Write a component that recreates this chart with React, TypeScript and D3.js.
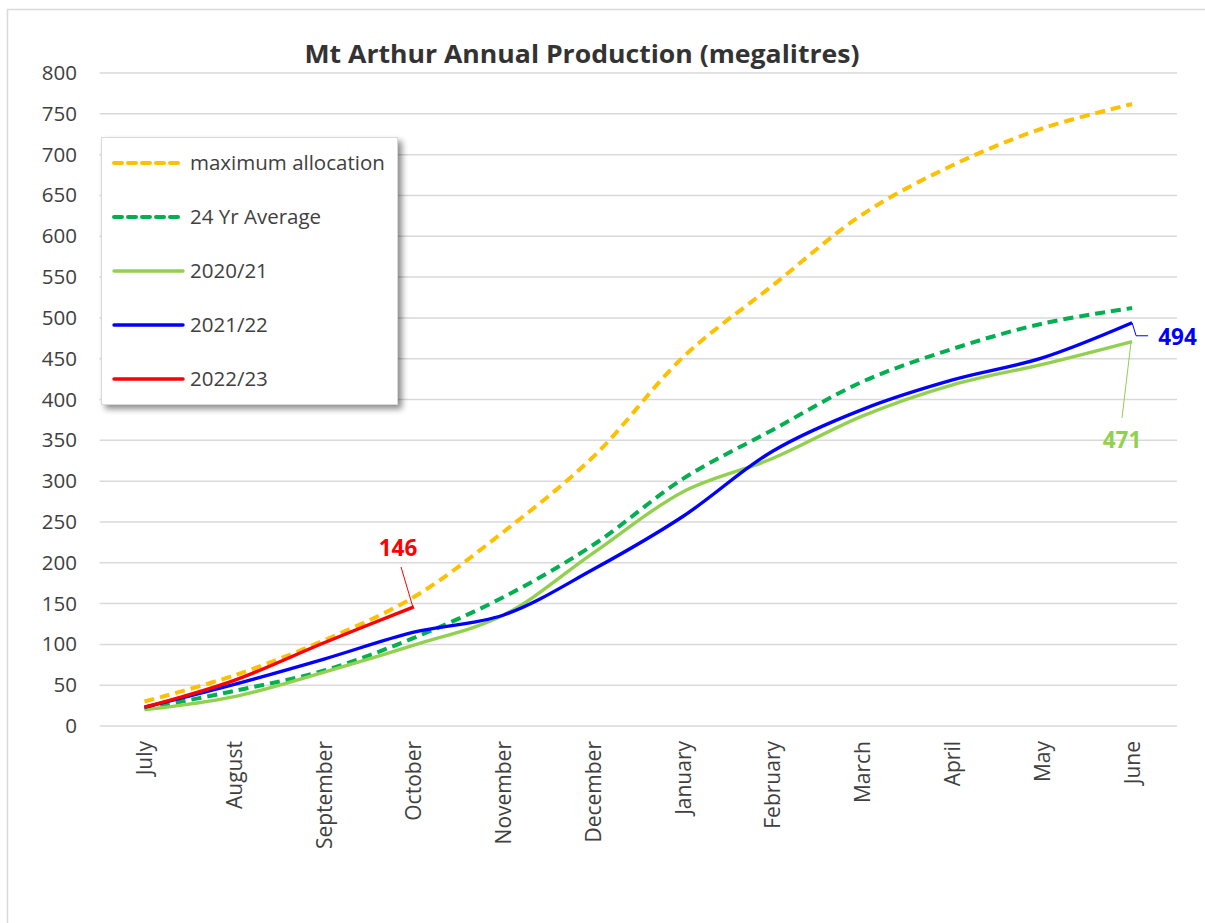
import React from "react";
import * as d3 from "d3";

const months = ["July","August","September","October","November","December","January","February","March","April","May","June"];
const maxAllocation = [30, 62, 105, 158, 238, 330, 452, 540, 627, 687, 732, 762];
const avg24 = [21, 43, 68, 108, 158, 222, 303, 363, 422, 462, 493, 512];
const y2020 = [20, 36, 66, 99, 136, 212, 287, 328, 380, 418, 443, 471];
const y2021 = [23, 51, 82, 115, 136, 192, 257, 337, 388, 424, 451, 494];
const y2022 = [23, 56, 102, 146];
const yTicks = [0,50,100,150,200,250,300,350,400,450,500,550,600,650,700,750,800];

const series = [
  { name: "maximum allocation", values: maxAllocation, color: "#FFC000", dash: "10,6" },
  { name: "24 Yr Average", values: avg24, color: "#00B050", dash: "10,6" },
  { name: "2020/21", values: y2020, color: "#92D050", dash: null },
  { name: "2021/22", values: y2021, color: "#0000FF", dash: null },
  { name: "2022/23", values: y2022, color: "#FF0000", dash: null },
];

const FONT = "'Open Sans', sans-serif";

export default function App() {
  const left = 99.6, right = 1177, top = 73, bottom = 726;
  const x = d3.scaleBand<string>().domain(months).range([left, right]);
  const xc = (i: number) => (x(months[i]) as number) + x.bandwidth() / 2;
  const y = d3.scaleLinear().domain([0, 800]).range([bottom, top]);
  const line = d3.line<number>().x((_, i) => xc(i)).y(d => y(d)).curve(d3.curveCatmullRom.alpha(0.5));

  const lastRed = y2022.length - 1;
  const lastIdx = months.length - 1;

  return (
    <svg width={1205} height={923} style={{ position: "absolute", left: 0, top: 0, background: "#fff" }}>
      <defs>
        <filter id="shadow" x="-10%" y="-10%" width="130%" height="130%">
          <feGaussianBlur in="SourceAlpha" stdDeviation="3" />
          <feOffset dx="4" dy="4" result="b" />
          <feComponentTransfer><feFuncA type="linear" slope="0.45" /></feComponentTransfer>
          <feMerge><feMergeNode /><feMergeNode in="SourceGraphic" /></feMerge>
        </filter>
      </defs>
      <rect x={7.5} y={9.5} width={1220} height={940} fill="#fff" stroke="#d9d9d9" strokeWidth={1.5} />
      <text x={582} y={63} textAnchor="middle" fontFamily={FONT} fontWeight="bold" fontSize={25} fill="#333" textLength={555} lengthAdjust="spacingAndGlyphs">
        Mt Arthur Annual Production (megalitres)
      </text>
      {yTicks.map(t => (
        <g key={t}>
          <line x1={left} x2={right} y1={y(t)} y2={y(t)} stroke="#d9d9d9" strokeWidth={1.5} />
          <text x={77} y={y(t) + 7} textAnchor="end" fontFamily={FONT} fontSize={20.5} fill="#404040">{t}</text>
        </g>
      ))}
      {months.map((m, i) => (
        <text key={m} transform={`translate(${xc(i) + 7.5},741) rotate(-90)`} textAnchor="end"
          fontFamily={FONT} fontSize={21} fill="#404040">{m}</text>
      ))}
      {series.map(s => (
        <path key={s.name} d={line(s.values) || ""} fill="none" stroke={s.color} strokeWidth={s.dash ? 4 : 3.4}
          strokeDasharray={s.dash || undefined} strokeLinejoin="round" />
      ))}
      {/* data labels */}
      <line x1={401} y1={567} x2={xc(lastRed) - 1} y2={y(y2022[lastRed])} stroke="#FF0000" strokeWidth={1} />
      <text x={398} y={556} textAnchor="middle" fontFamily={FONT} fontWeight="bold" fontSize={22.5} fill="#FF0000">{y2022[lastRed]}</text>
      <polyline points={`${xc(lastIdx)},${y(y2021[lastIdx])} ${xc(lastIdx) + 4},${y(y2021[lastIdx]) + 13} ${xc(lastIdx) + 16},${y(y2021[lastIdx]) + 13}`}
        fill="none" stroke="#0000FF" strokeWidth={1} />
      <text x={1177.5} y={345} textAnchor="middle" fontFamily={FONT} fontWeight="bold" fontSize={22.5} fill="#0000FF">{y2021[lastIdx]}</text>
      <line x1={xc(lastIdx) - 1} y1={y(y2020[lastIdx])} x2={1122} y2={418} stroke="#92D050" strokeWidth={1} />
      <text x={1122} y={448} textAnchor="middle" fontFamily={FONT} fontWeight="bold" fontSize={22.5} fill="#92D050">{y2020[lastIdx]}</text>
      {/* legend */}
      <g filter="url(#shadow)">
        <rect x={101.5} y={137.5} width={296} height={267} fill="#fff" stroke="#d9d9d9" strokeWidth={1} />
      </g>
      {series.map((s, i) => {
        const ly = 163 + i * 54;
        return (
          <g key={s.name}>
            <line x1={114} x2={183} y1={ly} y2={ly} stroke={s.color} strokeWidth={s.dash ? 4 : 3.4}
              strokeDasharray={s.dash ? "8,6" : undefined} strokeLinecap="round" />
            <text x={190} y={ly + 7} fontFamily={FONT} fontSize={20.5} fill="#404040">{s.name}</text>
          </g>
        );
      })}
    </svg>
  );
}
